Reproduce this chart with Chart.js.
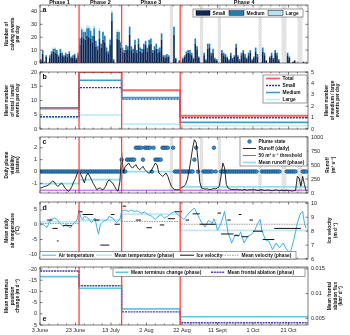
<!DOCTYPE html>
<html lang="en">
<head>
<meta charset="UTF-8" />
<title>Calving, plume, weather and terminus change by phase</title>
<script src="https://cdn.jsdelivr.net/npm/chart.js"></script>
<style>
  body { margin: 0; background: #fff; }
  .fig { position: relative; width: 350px; height: 335px; overflow: hidden; }
  .fig canvas { position: absolute; left: 0; }
</style>
</head>
<body>
<div class="fig">
  <canvas id="pa" width="350" height="68" style="top:0px"></canvas>
  <canvas id="pb" width="350" height="68" style="top:66px"></canvas>
  <canvas id="pc" width="350" height="67" style="top:131px"></canvas>
  <canvas id="pd" width="350" height="68" style="top:196px"></canvas>
  <canvas id="pe" width="350" height="74" style="top:261px"></canvas>
</div>

<script>
// ---- data (day 0 = 3 June, day 150 = 31 Oct) ----
const xTickDays = [0, 20, 40, 60, 80, 100, 120, 140];
const xTickLabels = ['3 June', '23 June', '13 July', '2 Aug', '22 Aug', '11 Sept', '1 Oct', '21 Oct'];
const phaseStart = [0, 22, 46, 79];
const phaseNames = ['Phase 1', 'Phase 2', 'Phase 3', 'Phase 4'];
const bandStart = [73, 90, 100, 123, 136, 145];   // days with no data
const bandEnd = [75, 92, 102, 125, 139, 148];

// calving events per day
const smallEvents = [
  2,7,1,5,0,4,7,9,8,7, 5,8,6,5,6,5,7,4,4,6, 3,6,14,20,19,18,21,20,19,16,
  21,13,10,19,12,18,16,9,7,14, 33,2,0,19,18,12,9,8,10,10, 22,10,8,14,8,15,9,8,11,14,
  9,14,15,8,10,11,8,9,18,5, 4,5,5,null,null,22,3,0,2,0, 3,5,7,8,7,6,3,15,10,4,
  null,null,6,2,11,12,6,8,3,2, null,null,8,6,5,4,2,6,3,5, 12,5,2,6,8,5,3,6,8,2,
  4,9,5,null,null,9,6,2,0,4, 6,3,8,6,2,0,null,null,null,6, 4,0,1,2,0,null,null,null,1,0,0
];
const mediumEvents = [
  1,3,0,1,0,2,2,2,3,3, 1,3,2,1,2,2,2,1,2,1, 1,2,5,6,5,6,6,7,6,5,
  6,4,3,6,3,6,5,3,2,4, 6,1,0,5,6,4,3,2,4,3, 6,3,3,4,2,4,3,3,4,3,
  3,4,4,2,3,4,3,3,5,1, 2,2,1,null,null,6,1,0,0,0, 1,1,2,2,3,2,1,4,3,1,
  null,null,2,1,4,3,2,3,1,1, null,null,2,2,2,1,1,2,1,1, 3,1,1,2,2,2,1,2,2,1,
  1,3,2,null,null,3,2,0,0,1, 2,1,2,2,1,0,null,null,null,2, 1,0,0,0,0,null,null,null,0,0,0
];
const largeEvents = [
  0,0,0,0,0,0,0,1,1,0, 0,0,1,0,0,0,0,0,0,1, 0,1,1,2,2,1,2,2,2,1,
  2,1,1,2,1,1,1,1,1,1, 2,0,0,2,1,1,0,0,0,0, 1,0,0,0,0,0,0,0,0,1,
  0,0,0,0,0,0,0,0,0,0, 0,0,0,null,null,1,0,0,0,0, 0,0,0,0,0,0,0,0,0,0,
  null,null,0,0,0,0,0,0,0,0, null,null,0,0,0,0,0,0,0,0, 0,0,0,0,0,0,0,0,0,0,
  0,0,0,null,null,0,0,0,0,0, 0,0,0,0,0,0,null,null,null,0, 0,0,0,0,0,null,null,null,0,0,0
];

// phase means of event counts
const totalMean = [7.2, 20.0, 13.6, 4.65];
const smallMean = [4.3, 14.5, 10.5, 3.95];
const mediumMean = [1.86, 4.27, 2.75, 0.58];
const largeMean = [1.0, 1.22, 0.43, 0.29];

// plume visibility state and runoff
const plumeState = [
  0,0,0,0,0,0,0,0,0,0, 0,0,0,0,0,0,0,0,0,0, 0,0,0,0,0,0,0,0,0,0,
  0,0,0,0,0,0,0,0,0,0, 0,0,0,0,0,0,1,0,0,1, 1,1,1,1,2,2,2,2,1,2,
  2,2,2,0,2,1,1,1,1,2, 2,2,2,null,null,2,0,0,0,0, 0,0,0,0,0,0,0,1,2,0,
  null,null,0,0,0,0,0,0,2,0, null,null,0,0,0,0,0,0,0,0, 0,0,0,0,0,0,0,0,0,0,
  0,0,0,null,null,0,0,0,0,0, 0,0,0,0,0,0,null,null,null,0, 0,0,0,0,0,null,null,null,0,0,0
];
const runoffDaily = [
  89,95,110,120,130,150,180,210,200,150, 118,140,178,150,90,59,30,60,120,200,
  260,350,404,330,260,180,300,357,300,238, 170,118,59,80,90,59,70,120,200,238,
  200,178,120,59,30,200,714,357,476,500, 536,480,446,470,506,450,416,440,476,420,
  387,360,357,420,476,536,500,357,330,297, 320,357,300,200,120,80,60,55,59,70,
  100,118,150,238,400,595,800,952,900,595, 200,89,80,70,75,65,60,70,80,75,
  90,118,300,536,450,150,89,70,60,65, 60,70,55,60,50,65,55,50,60,55,
  70,60,50,45,55,60,50,45,55,50, 45,40,50,55,45,40,50,45,40,50,
  45,40,35,40,45,297,267,120,297,150,29
];
const runoffThreshold = 50;
const runoffMean = [166, 238, 380, 110];

// air temperature and ice velocity
const airTemp = [
  0.7,0.3,0,-0.5,-0.9,0.5,1.8,2.0,2.3,2.1, 1.5,0.7,0.0,-0.6,-0.2,0.2,-0.5,-1.1,-0.3,0.4,
  1.0,1.8,5.0,2.5,1.8,2.9,2.6,2.3,1.5,0.7, 1.5,2.3,-0.9,-3.2,0.2,0.8,1.3,1.5,1.8,2.9,
  2.5,2.3,1.5,0.7,1.2,1.8,4.5,4.8,5.0,4.7, 4.5,5.0,4.8,4.5,4.6,4.7,4.3,3.9,4.1,4.3,
  3.8,3.4,3.1,2.9,2.2,1.8,2.5,2.9,3.4,2.9, 2.3,2.6,2.9,3.4,3.9,4.2,4.5,3.8,3.2,2.9,
  2.4,1.8,2.5,3.3,4.0,4.6,5.2,5.6,4.4,3.2, 2.0,0.8,0.0,-0.8,0.5,1.5,1.0,0.5,2.0,0.5,
  -1.9,-0.7,0.5,2.5,4.5,0.8,-2.9,-4.5,-6.2,-4.8, -3.4,-3.7,-3.9,-2.4,-4.3,-6.2,-5.0,-3.9,-3.6,-3.4,
  -2.6,-1.9,-0.5,0.8,1.8,-1.9,-3.5,-5.1,-5.3,-5.6, -7.0,-8.4,-7.3,-6.2,-7.0,-7.8,-7.0,-6.2,-7.3,-8.4,
  -9.0,-9.5,-7.3,-5.1,-2.3,0.5,2.6,4.0,4.5,0.5,-1.2
];
const tempMean = [1.0, 1.6, 3.6, -1.9];
const velStart = [4,7,9.5,13,21.5,24,30.5,34,40,42,46.5,54,60,67.5,72,76,82,86,90,100,102,105.5,109.5,112,113.5,118,120,125.5,132];
const velEnd = [7,10,10.5,18,24,30,33.5,39,42,45,48.5,57,63,70,76,80,84,90,99,102,109,107.5,112,113.5,117.5,120,125.5,132,147];
const velValue = [8.8,8.2,7.3,8.4,9.4,9.2,8.8,7.0,9.2,8.5,9.8,8.8,8.25,8.45,8.9,9.4,8.8,9.25,8.5,9.3,7.8,8.8,7.7,9.2,7.6,8.8,8.0,7.4,8.2];
const velocityMean = [8.55, 8.75, 8.7, 8.5];

// terminus change and frontal ablation
const terminusMean = [-16.6, -11.4, -2.2, 1.3];
const ablationMean = [0.0146, 0.0116, 0.0063, 0.0041];

// tick values
const aTicks = [0, 10, 20, 30, 40];
const bLeftTicks = [0, 5, 10, 15, 20];
const bRightTicks = [0, 1, 2, 3, 4, 5];
const cLeftTicks = [-1, 0, 1, 2];
const cRightTicks = [0, 250, 500, 750, 1000];
const dLeftTicks = [-10, -5, 0, 5];
const dRightTicks = [6, 7, 8, 9, 10];
const eLeftTicks = [-20, -15, -10, -5, 0, 5];
const eRightTicks = [0.005, 0.01, 0.015];

// ---- layout and helpers ----
const LEFT_W = 40, RIGHT_W = 42, X_MAX = 151;
const INK = '#262626';
const TITLE_FONT = "bold 4.8px 'Liberation Sans', Arial, sans-serif";
const LEGEND_FONT = "bold 4.8px 'Liberation Sans', Arial, sans-serif";

Chart.defaults.font.family = "'Liberation Sans', Arial, sans-serif";
Chart.defaults.font.size = 5.5;
Chart.defaults.color = INK;

const pts = (arr, off = 0) => arr.map((v, i) => ({x: i + off, y: v}));
const steps = vals => vals.map((v, i) => ({x: phaseStart[i], y: v})).concat([{x: X_MAX, y: vals[vals.length - 1]}]);
const segments = () => {
  const out = [];
  velStart.forEach((s, i) => {
    out.push({x: s, y: velValue[i]}, {x: velEnd[i], y: velValue[i]}, {x: velEnd[i], y: null});
  });
  return out;
};

function xScale(showLabels, h, stacked = false) {
  return {
    type: 'linear', min: 0, max: X_MAX, offset: false, stacked,
    grid: {display: false, drawTicks: false, offset: false}, border: {display: false},
    ticks: {display: showLabels, padding: 2, maxRotation: 0, autoSkip: false,
            callback: v => xTickLabels[xTickDays.indexOf(v)] || ''},
    afterBuildTicks: s => { s.ticks = xTickDays.map(v => ({value: v})); },
    afterFit: s => { s.height = h; s.paddingLeft = 0; s.paddingRight = 0; }
  };
}

function yScale(pos, min, max, tickVals, extra = {}) {
  return Object.assign({
    type: 'linear', position: pos, min, max,
    grid: {display: false, drawTicks: false}, border: {display: false},
    ticks: {padding: 3, callback: v => String(v)},
    afterBuildTicks: s => { s.ticks = tickVals.map(v => ({value: v})); },
    afterFit: s => { s.width = pos === 'left' ? LEFT_W : RIGHT_W; s.paddingTop = 0; s.paddingBottom = 0; }
  }, extra);
}

function options(padTop, padRight, scales) {
  return {
    responsive: false, animation: false, devicePixelRatio: 1,
    layout: {padding: {top: padTop, right: padRight, left: 0, bottom: 0}},
    plugins: {legend: {display: false}, tooltip: {enabled: false}},
    elements: {point: {radius: 0}, line: {tension: 0}},
    scales
  };
}

// per-panel decoration (page coordinates)
const panelSpec = {
  pa: {top: 0, letter: 'a', letterY: 10.5, bands: true, mirror: true, phases: true,
       left: ['Number of', 'calving events', 'per day'],
       legend: {x: 193, y: 9, w: 110, h: 8, items: [
         {ds: 0, kind: 'box', sx: 196, sw: 14, y: 13},
         {ds: 1, kind: 'box', sx: 229, sw: 15, y: 13},
         {ds: 2, kind: 'box', sx: 268, sw: 15, y: 13}]}},
  pb: {top: 66, letter: 'b', letterY: 77.5,
       left: ['Mean number', 'of total / small', 'events per day'],
       right: ['Mean number', 'of medium / large', 'events per day'], rightX: [327, 332.5, 338],
       legend: {x: 263, y: 75, w: 44, h: 28, items: [
         {ds: 3, sx: 266, sw: 14, y: 78.5},
         {ds: 0, sx: 266, sw: 14, y: 85.5},
         {ds: 2, sx: 266, sw: 14, y: 92.5},
         {ds: 1, sx: 266, sw: 14, y: 99.5}]}},
  pc: {top: 131, letter: 'c', letterY: 142.5, bands: true,
       left: ['Daily plume', 'visibility', '(states)'],
       right: ['Runoff', '(m³ s⁻¹)'], rightX: [328, 334],
       legend: {x: 240, y: 137, w: 67, h: 29, items: [
         {ds: 1, kind: 'dot', sx: 243, sw: 13, y: 141.5},
         {ds: 0, sx: 243, sw: 13, y: 148.5},
         {ds: 2, sx: 243, sw: 13, y: 155.5},
         {ds: 3, sx: 243, sw: 13, y: 162.5}]}},
  pd: {top: 196, letter: 'd', letterY: 208,
       left: ['Mean daily', 'air temperature', '(°C)'],
       right: ['Ice velocity', '(m d⁻¹)'], rightX: [330, 336],
       legend: {x: 40, y: 251.5, w: 256, h: 7.5, items: [
         {ds: 1, sx: 42, sw: 14, y: 255.2},
         {ds: 2, sx: 96, sw: 16, y: 255.2},
         {ds: 0, sx: 180, sw: 14, y: 255.2},
         {ds: 3, sx: 222, sw: 17, y: 255.2}]}},
  pe: {top: 261, letter: 'e', letterY: 319,
       left: ['Mean terminus', 'position', 'change (m d⁻¹)'],
       right: ['Mean frontal', 'ablation flux', '(km³ d⁻¹)'], rightX: [330, 335.5, 341],
       legend: {x: 113, y: 268, w: 192, h: 8.5, items: [
         {ds: 1, sx: 115.5, sw: 13, y: 272.3},
         {ds: 0, sx: 211, sw: 14, y: 272.3}]}}
};

function drawTitle(ctx, lines, xs, cy) {
  ctx.save();
  ctx.font = TITLE_FONT; ctx.fillStyle = '#111';
  ctx.textAlign = 'center'; ctx.textBaseline = 'middle';
  lines.forEach((t, i) => {
    ctx.save(); ctx.translate(xs[i], cy); ctx.rotate(-Math.PI / 2); ctx.fillText(t, 0, 0); ctx.restore();
  });
  ctx.restore();
}

function drawLegend(chart, L) {
  const ctx = chart.ctx, ds = chart.data.datasets;
  ctx.save();
  ctx.fillStyle = '#fff'; ctx.fillRect(L.x, L.y, L.w, L.h);
  ctx.strokeStyle = '#3a3a3a'; ctx.lineWidth = 0.5; ctx.strokeRect(L.x, L.y, L.w, L.h);
  ctx.font = LEGEND_FONT; ctx.textBaseline = 'middle'; ctx.textAlign = 'left';
  L.items.forEach(it => {
    const d = ds[it.ds];
    if (it.kind === 'box') {
      ctx.fillStyle = d.backgroundColor; ctx.fillRect(it.sx, it.y - 2.3, it.sw, 4.6);
      ctx.strokeStyle = '#111'; ctx.lineWidth = 0.5; ctx.strokeRect(it.sx, it.y - 2.3, it.sw, 4.6);
    } else if (it.kind === 'dot') {
      ctx.beginPath(); ctx.arc(it.sx + it.sw / 2, it.y, d.pointRadius, 0, Math.PI * 2);
      ctx.fillStyle = d.pointBackgroundColor; ctx.fill();
      ctx.strokeStyle = d.pointBorderColor; ctx.lineWidth = d.pointBorderWidth; ctx.stroke();
    } else {
      ctx.strokeStyle = d.borderColor; ctx.lineWidth = d.borderWidth; ctx.setLineDash(d.borderDash || []);
      ctx.beginPath(); ctx.moveTo(it.sx, it.y); ctx.lineTo(it.sx + it.sw, it.y); ctx.stroke();
      ctx.setLineDash([]);
    }
    ctx.fillStyle = '#111'; ctx.fillText(d.label, it.sx + it.sw + 2.5, it.y + 0.3);
  });
  ctx.restore();
}

const decor = {
  id: 'decor',
  beforeDatasetsDraw(chart) {
    const p = panelSpec[chart.canvas.id];
    if (!p || !p.bands) return;
    const {ctx, chartArea: a} = chart, x = chart.scales.x;
    bandStart.forEach((s, i) => {
      const x0 = x.getPixelForValue(s), x1 = x.getPixelForValue(bandEnd[i]);
      ctx.save();
      ctx.beginPath(); ctx.rect(x0, a.top, x1 - x0, a.height); ctx.clip();
      ctx.fillStyle = '#ececec'; ctx.fillRect(x0, a.top, x1 - x0, a.height);
      ctx.strokeStyle = '#c2c2c2'; ctx.lineWidth = 0.5;
      for (let y = a.top - 6; y < a.bottom + 6; y += 2.5) {
        ctx.beginPath(); ctx.moveTo(x0, y + 4); ctx.lineTo(x1, y); ctx.stroke();
      }
      ctx.restore();
    });
  },
  afterDatasetsDraw(chart) {
    const {ctx, chartArea: a} = chart, x = chart.scales.x;
    ctx.save();
    ctx.strokeStyle = '#ff4545'; ctx.lineWidth = 1.3;
    phaseStart.slice(1).forEach(d => {
      const px = x.getPixelForValue(d);
      ctx.beginPath(); ctx.moveTo(px, a.top); ctx.lineTo(px, a.bottom); ctx.stroke();
    });
    ctx.restore();
  },
  afterDraw(chart) {
    const p = panelSpec[chart.canvas.id];
    if (!p) return;
    const {ctx, chartArea: a} = chart, x = chart.scales.x;
    ctx.save();
    ctx.strokeStyle = INK; ctx.lineWidth = 0.6;
    // inward ticks
    for (let d = 0; d <= X_MAX; d += 5) {
      const px = x.getPixelForValue(d), len = xTickDays.includes(d) ? 2.5 : 1.4;
      ctx.beginPath();
      ctx.moveTo(px, a.bottom); ctx.lineTo(px, a.bottom - len);
      ctx.moveTo(px, a.top); ctx.lineTo(px, a.top + len);
      ctx.stroke();
    }
    ['y', 'y2'].forEach(id => {
      const s = chart.scales[id];
      if (!s) return;
      const edges = p.mirror ? [a.left, a.right] : [s.position === 'left' ? a.left : a.right];
      s.ticks.forEach(t => {
        const py = s.getPixelForValue(t.value);
        edges.forEach(ex => {
          const dir = ex === a.left ? 1 : -1;
          ctx.beginPath(); ctx.moveTo(ex, py); ctx.lineTo(ex + dir * 2.5, py); ctx.stroke();
        });
      });
    });
    ctx.strokeRect(a.left, a.top, a.width, a.height);
    ctx.restore();

    const cy = (a.top + a.bottom) / 2;
    drawTitle(ctx, p.left, [7, 12.5, 18], cy);
    if (p.right) drawTitle(ctx, p.right, p.rightX, cy);

    ctx.save();
    ctx.translate(0, -p.top);
    drawLegend(chart, p.legend);
    ctx.font = "bold 7px 'Liberation Sans', Arial, sans-serif";
    ctx.fillStyle = '#111'; ctx.textBaseline = 'middle'; ctx.textAlign = 'left';
    ctx.fillText(p.letter, 42.5, p.letterY);
    ctx.restore();

    if (p.phases) {
      ctx.save();
      ctx.font = "bold 5.5px 'Liberation Sans', Arial, sans-serif";
      ctx.fillStyle = '#111'; ctx.textAlign = 'center'; ctx.textBaseline = 'middle';
      phaseStart.forEach((s, i) => {
        const e = i + 1 < phaseStart.length ? phaseStart[i + 1] : X_MAX;
        ctx.fillText(phaseNames[i], (x.getPixelForValue(s) + x.getPixelForValue(e)) / 2, a.top - 2.6);
      });
      ctx.restore();
    }
  }
};
Chart.register(decor);

// ---- a: calving events per day ----
new Chart(document.getElementById('pa'), {
  type: 'bar',
  data: {datasets: [
    {label: 'Small', data: pts(smallEvents, 0.5), backgroundColor: '#0c2858', barPercentage: 1, categoryPercentage: 0.92},
    {label: 'Medium', data: pts(mediumEvents, 0.5), backgroundColor: '#1f7db3', barPercentage: 1, categoryPercentage: 0.92},
    {label: 'Large', data: pts(largeEvents, 0.5), backgroundColor: '#b3e5f6', barPercentage: 1, categoryPercentage: 0.92}
  ]},
  options: options(5, RIGHT_W, {x: xScale(false, 5, true), y: yScale('left', 0, 45, aTicks, {stacked: true})})
});

// ---- b: phase means of event counts ----
new Chart(document.getElementById('pb'), {
  type: 'line',
  data: {datasets: [
    {label: 'Small', data: steps(smallMean), stepped: true, borderColor: '#2e3d9c', borderWidth: 1.3, borderDash: [2, 1], yAxisID: 'y'},
    {label: 'Large', data: steps(largeMean), stepped: true, borderColor: '#bdeefb', borderWidth: 1.6, yAxisID: 'y2'},
    {label: 'Medium', data: steps(mediumMean), stepped: true, borderColor: '#3a9dd0', borderWidth: 1.6, yAxisID: 'y2'},
    {label: 'Total', data: steps(totalMean), stepped: true, borderColor: '#ff6262', borderWidth: 1.8, yAxisID: 'y'}
  ]},
  options: options(6, 0, {x: xScale(false, 5), y: yScale('left', 0, 20, bLeftTicks), y2: yScale('right', 0, 5, bRightTicks)})
});

// ---- c: plume state and runoff ----
new Chart(document.getElementById('pc'), {
  type: 'line',
  data: {datasets: [
    {label: 'Runoff (daily)', data: pts(runoffDaily), borderColor: '#111', borderWidth: 0.9, yAxisID: 'y2'},
    {label: 'Plume state', data: pts(plumeState), showLine: false, pointRadius: 1.8,
     pointBackgroundColor: '#2b93da', pointBorderColor: '#0d3563', pointBorderWidth: 0.6, yAxisID: 'y'},
    {label: '50 m³ s⁻¹ threshold', data: [{x: 0, y: runoffThreshold}, {x: X_MAX, y: runoffThreshold}],
     borderColor: '#b940f2', borderWidth: 1, yAxisID: 'y2'},
    {label: 'Mean runoff (phase)', data: steps(runoffMean), stepped: true, borderColor: '#93e0ea', borderWidth: 1.8, yAxisID: 'y2'}
  ]},
  options: options(6, 0, {x: xScale(false, 5), y: yScale('left', -1.8, 2.9, cLeftTicks), y2: yScale('right', 0, 1000, cRightTicks)})
});

// ---- d: air temperature and ice velocity ----
new Chart(document.getElementById('pd'), {
  type: 'line',
  data: {datasets: [
    {label: 'Ice velocity', data: segments(), borderColor: '#111', borderWidth: 1, spanGaps: false, yAxisID: 'y2'},
    {label: 'Air temperature', data: pts(airTemp), borderColor: '#38aef2', borderWidth: 1, yAxisID: 'y'},
    {label: 'Mean temperature (phase)', data: steps(tempMean), stepped: true, borderColor: '#bfe9f7', borderWidth: 1.8, yAxisID: 'y'},
    {label: 'Mean velocity (phase)', data: steps(velocityMean), stepped: true, borderColor: '#8f8f8f', borderWidth: 0.9, borderDash: [1.5, 1], yAxisID: 'y2'}
  ]},
  options: options(6, 0, {x: xScale(false, 5), y: yScale('left', -11.6, 7.7, dLeftTicks), y2: yScale('right', 6, 10.1, dRightTicks)})
});

// ---- e: terminus change and frontal ablation ----
new Chart(document.getElementById('pe'), {
  type: 'line',
  data: {datasets: [
    {label: 'Mean frontal ablation (phase)', data: steps(ablationMean), stepped: true, borderColor: '#4a3cbf', borderWidth: 1.4, borderDash: [2, 0.8], yAxisID: 'y2'},
    {label: 'Mean terminus change (phase)', data: steps(terminusMean), stepped: true, borderColor: '#62c6e3', borderWidth: 1.6, yAxisID: 'y'}
  ]},
  options: options(6, 0, {x: xScale(true, 10), y: yScale('left', -20.9, 5, eLeftTicks, {reverse: true}), y2: yScale('right', 0.00365, 0.0154, eRightTicks)})
});
</script>
</body>
</html>
